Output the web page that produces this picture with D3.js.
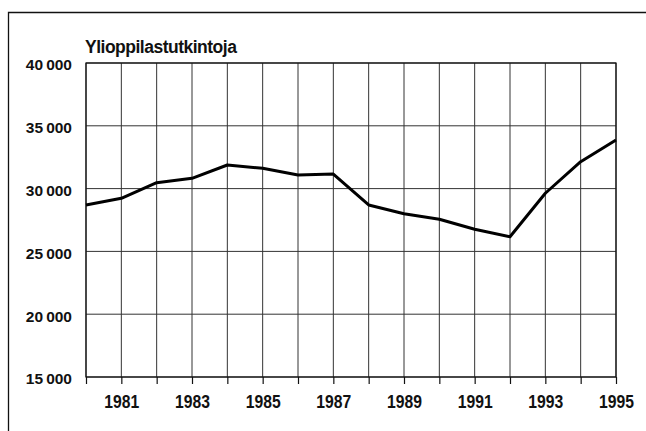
<!DOCTYPE html>
<html lang="fi">
<head>
  <meta charset="UTF-8">
  <title>Ylioppilastutkintoja</title>
  <script src="https://d3js.org/d3.v7.min.js"></script>
  <style>
    html, body {
      margin: 0;
      padding: 0;
      overflow: hidden;
      background-color: #fff;
    }
    svg {
      display: block;
    }
    #chart text {
      font-family: "Liberation Sans", Arial, sans-serif;
      fill: #111;
    }
  </style>
</head>
<body>

<div id="chart"></div>

<script>
  // data
  var years = [1980, 1981, 1982, 1983, 1984, 1985, 1986, 1987,
               1988, 1989, 1990, 1991, 1992, 1993, 1994, 1995];
  var exams = [28700, 29230, 30470, 30820, 31880, 31620, 31080, 31160,
               28700, 28000, 27560, 26760, 26170, 29630, 32140, 33870];
  var yTicks = [15000, 20000, 25000, 30000, 35000, 40000];
  var xLabels = [1981, 1983, 1985, 1987, 1989, 1991, 1993, 1995];
  var title = "Ylioppilastutkintoja";

  var width = 646, height = 431;
  var margin = {top: 63, right: 30, bottom: 54, left: 86};

  var svg = d3.select("#chart")
    .append("svg")
    .attr("width", width)
    .attr("height", height);

  // outer frame: only the top and left edges are inside the picture
  svg.append("path")
    .attr("d", "M8.5,431V12.5H646")
    .attr("fill", "none")
    .attr("stroke", "#111")
    .attr("stroke-width", 1.3);

  var x = d3.scaleLinear()
    .domain([1980, 1995])
    .range([margin.left, width - margin.right]);

  var y = d3.scaleLinear()
    .domain([15000, 40000])
    .range([height - margin.bottom, margin.top]);

  // grid
  svg.append("g")
    .selectAll("line")
    .data(years)
    .join("line")
    .attr("x1", d => x(d))
    .attr("x2", d => x(d))
    .attr("y1", y(15000))
    .attr("y2", y(40000))
    .attr("stroke", "#333")
    .attr("stroke-width", 1);

  svg.append("g")
    .selectAll("line")
    .data(yTicks)
    .join("line")
    .attr("x1", x(1980))
    .attr("x2", x(1995))
    .attr("y1", d => y(d))
    .attr("y2", d => y(d))
    .attr("stroke", "#333")
    .attr("stroke-width", 1);

  // plot border
  svg.append("rect")
    .attr("x", x(1980))
    .attr("y", y(40000))
    .attr("width", x(1995) - x(1980))
    .attr("height", y(15000) - y(40000))
    .attr("fill", "none")
    .attr("stroke", "#111")
    .attr("stroke-width", 1.2);

  // x axis: ticks every year, labels on odd years
  var xAxis = d3.axisBottom(x)
    .tickValues(years)
    .tickSize(7)
    .tickFormat(d => xLabels.indexOf(d) >= 0 ? d : "");

  var gx = svg.append("g")
    .attr("transform", "translate(0," + y(15000) + ")")
    .call(xAxis);
  gx.select(".domain").remove();
  gx.selectAll(".tick line").attr("stroke", "#111").attr("stroke-width", 1.2);
  gx.selectAll(".tick text")
    .attr("y", 18)
    .attr("font-size", 18.5)
    .attr("font-weight", "bold")
    .attr("transform", "scale(0.85,1)");

  // y axis labels
  var yAxis = d3.axisLeft(y)
    .tickValues(yTicks)
    .tickSize(0)
    .tickPadding(14)
    .tickFormat(d => d3.format(",")(d).replace(",", "\u2009"));

  var gy = svg.append("g")
    .attr("transform", "translate(" + x(1980) + ",0)")
    .call(yAxis);
  gy.select(".domain").remove();
  gy.selectAll(".tick text")
    .attr("dy", "0.45em")
    .attr("font-size", 15.5)
    .attr("font-weight", "bold");

  // title
  svg.append("text")
    .attr("x", x(1980) - 1)
    .attr("y", 53)
    .attr("font-size", 17.5)
    .attr("font-weight", "bold")
    .attr("letter-spacing", "-0.5px")
    .text(title);

  // data line
  var line = d3.line()
    .x((d, i) => x(years[i]))
    .y(d => y(d));

  svg.append("path")
    .datum(exams)
    .attr("d", line)
    .attr("fill", "none")
    .attr("stroke", "#000")
    .attr("stroke-width", 3)
    .attr("stroke-linejoin", "round");
</script>

</body>
</html>
